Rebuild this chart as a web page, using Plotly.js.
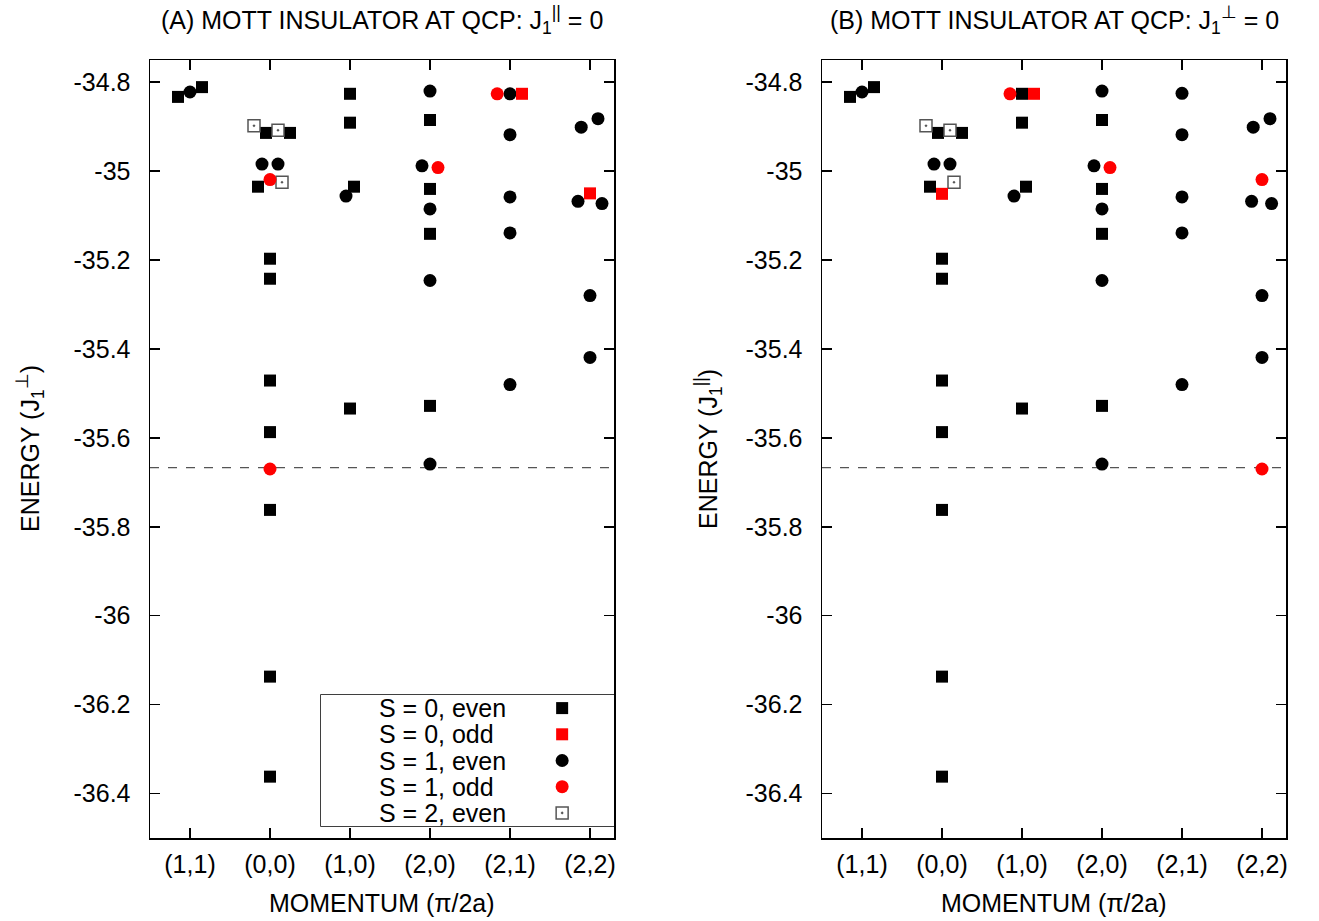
<!DOCTYPE html>
<html>
<head>
<meta charset="utf-8">
<script src="https://cdn.plot.ly/plotly-3.0.1.min.js"></script>
<style>html,body{margin:0;padding:0;background:#fff;}</style>
</head>
<body>
<div id="chart" style="width:1319px;height:921px;"></div>
<script>
// ---------------- DATA ----------------
const momentumLabels = ["(1,1)", "(0,0)", "(1,0)", "(2,0)", "(2,1)", "(2,2)"];
const energyTickValues = [-34.8, -35.0, -35.2, -35.4, -35.6, -35.8, -36.0, -36.2, -36.4];
const energyTickLabels = ["-34.8", "-35", "-35.2", "-35.4", "-35.6", "-35.8", "-36", "-36.2", "-36.4"];
const groundEnergy = -35.667;
const legendLabels = ["S = 0, even", "S = 0, odd", "S = 1, even", "S = 1, odd", "S = 2, even"];

// Panel A  (k = momentum, dx = small horizontal separation of degenerate levels, E = energy)
const A_s0even_k  = ["(1,1)","(1,1)","(0,0)","(0,0)","(0,0)","(0,0)","(0,0)","(0,0)","(0,0)","(0,0)","(0,0)","(0,0)","(1,0)","(1,0)","(1,0)","(1,0)","(2,0)","(2,0)","(2,0)","(2,0)"];
const A_s0even_dx = [-0.15, 0.15, -0.05, 0.25, -0.15, 0, 0, 0, 0, 0, 0, 0, 0, 0, 0.05, 0, 0, 0, 0, 0];
const A_s0even_E  = [-34.833, -34.811, -34.914, -34.914, -35.035, -35.197, -35.242, -35.471, -35.587, -35.762, -36.137, -36.362, -34.826, -34.891, -35.035, -35.534, -34.885, -35.040, -35.141, -35.528];

const A_s0odd_k  = ["(2,1)", "(2,2)"];
const A_s0odd_dx = [0.15, 0];
const A_s0odd_E  = [-34.826, -35.050];

const A_s1even_k  = ["(1,1)","(0,0)","(0,0)","(1,0)","(2,0)","(2,0)","(2,0)","(2,0)","(2,0)","(2,1)","(2,1)","(2,1)","(2,1)","(2,1)","(2,2)","(2,2)","(2,2)","(2,2)","(2,2)","(2,2)"];
const A_s1even_dx = [0, -0.1, 0.1, -0.05, 0, -0.1, 0, 0, 0, 0, 0, 0, 0, 0, -0.11, 0.1, -0.15, 0.15, 0, 0];
const A_s1even_E  = [-34.822, -34.984, -34.984, -35.056, -34.820, -34.988, -35.085, -35.246, -35.659, -34.826, -34.918, -35.058, -35.139, -35.480, -34.901, -34.882, -35.068, -35.073, -35.280, -35.419];

const A_s1odd_k  = ["(0,0)", "(0,0)", "(2,0)", "(2,1)"];
const A_s1odd_dx = [0, 0, 0.1, -0.16];
const A_s1odd_E  = [-35.019, -35.670, -34.992, -34.826];

const A_s2even_k  = ["(0,0)", "(0,0)", "(0,0)"];
const A_s2even_dx = [-0.2, 0.1, 0.15];
const A_s2even_E  = [-34.898, -34.908, -35.025];

// Panel B
const B_s0even_k  = ["(1,1)","(1,1)","(0,0)","(0,0)","(0,0)","(0,0)","(0,0)","(0,0)","(0,0)","(0,0)","(0,0)","(0,0)","(1,0)","(1,0)","(1,0)","(1,0)","(2,0)","(2,0)","(2,0)","(2,0)"];
const B_s0even_dx = [-0.15, 0.15, -0.05, 0.25, -0.15, 0, 0, 0, 0, 0, 0, 0, 0, 0, 0.05, 0, 0, 0, 0, 0];
const B_s0even_E  = [-34.833, -34.811, -34.914, -34.914, -35.035, -35.197, -35.242, -35.471, -35.587, -35.762, -36.137, -36.362, -34.826, -34.891, -35.035, -35.534, -34.885, -35.040, -35.141, -35.528];

const B_s0odd_k  = ["(0,0)", "(1,0)"];
const B_s0odd_dx = [0, 0.15];
const B_s0odd_E  = [-35.051, -34.826];

const B_s1even_k  = ["(1,1)","(0,0)","(0,0)","(1,0)","(2,0)","(2,0)","(2,0)","(2,0)","(2,0)","(2,1)","(2,1)","(2,1)","(2,1)","(2,1)","(2,2)","(2,2)","(2,2)","(2,2)","(2,2)","(2,2)"];
const B_s1even_dx = [0, -0.1, 0.1, -0.1, 0, -0.1, 0, 0, 0, 0, 0, 0, 0, 0, -0.11, 0.1, -0.13, 0.12, 0, 0];
const B_s1even_E  = [-34.822, -34.984, -34.984, -35.056, -34.820, -34.988, -35.085, -35.246, -35.659, -34.825, -34.918, -35.058, -35.139, -35.480, -34.901, -34.882, -35.068, -35.073, -35.280, -35.419];

const B_s1odd_k  = ["(1,0)", "(2,0)", "(2,2)", "(2,2)"];
const B_s1odd_dx = [-0.15, 0.1, 0, 0];
const B_s1odd_E  = [-34.826, -34.992, -35.019, -35.670];

const B_s2even_k  = ["(0,0)", "(0,0)", "(0,0)"];
const B_s2even_dx = [-0.2, 0.1, 0.15];
const B_s2even_E  = [-34.898, -34.908, -35.025];

// ---------------- STYLE ----------------
const FONT = "Liberation Sans, Arial, Helvetica, sans-serif";
const FS = 25;
const TXT = {family: FONT, size: FS, color: "#000"};
const styles = [
  {symbol: "square", color: "#000000", size: 12, line: {width: 0}},
  {symbol: "square", color: "#ff0000", size: 12, line: {width: 0}},
  {symbol: "circle", color: "#000000", size: 13, line: {width: 0}},
  {symbol: "circle", color: "#ff0000", size: 13, line: {width: 0}},
  {symbol: "square-open-dot", color: "#555555", size: 12, line: {width: 1.5, color: "#555555"}}
];

function xs(k, dx) { return k.map((m, i) => momentumLabels.indexOf(m) + dx[i]); }
function mk(k, dx, E, si, xa, ya) {
  const s = styles[si];
  return {
    type: "scatter", mode: "markers", x: xs(k, dx), y: E, xaxis: xa, yaxis: ya,
    name: legendLabels[si], showlegend: false, cliponaxis: false,
    marker: {symbol: s.symbol, color: s.color, size: s.size, opacity: 1, line: s.line}
  };
}

const traces = [
  mk(A_s0even_k, A_s0even_dx, A_s0even_E, 0, "x", "y"),
  mk(A_s2even_k, A_s2even_dx, A_s2even_E, 4, "x", "y"),
  mk(A_s1even_k, A_s1even_dx, A_s1even_E, 2, "x", "y"),
  mk(A_s0odd_k, A_s0odd_dx, A_s0odd_E, 1, "x", "y"),
  mk(A_s1odd_k, A_s1odd_dx, A_s1odd_E, 3, "x", "y"),
  mk(B_s0even_k, B_s0even_dx, B_s0even_E, 0, "x2", "y2"),
  mk(B_s2even_k, B_s2even_dx, B_s2even_E, 4, "x2", "y2"),
  mk(B_s1even_k, B_s1even_dx, B_s1even_E, 2, "x2", "y2"),
  mk(B_s0odd_k, B_s0odd_dx, B_s0odd_E, 1, "x2", "y2"),
  mk(B_s1odd_k, B_s1odd_dx, B_s1odd_E, 3, "x2", "y2")
];

// legend key markers (drawn on a hidden axis pair that spans the key box)
const LEGEND_MARK_X = 0.823;
const LEGEND_TEXT_X = 0.19;
traces.push({
  type: "scatter", mode: "markers", xaxis: "x3", yaxis: "y3", showlegend: false,
  x: legendLabels.map(() => LEGEND_MARK_X), y: legendLabels,
  marker: {
    symbol: styles.map(s => s.symbol), color: styles.map(s => s.color), size: styles.map(s => s.size),
    opacity: 1,
    line: {width: styles.map(s => s.line.width), color: styles.map(s => s.line.color || s.color)}
  }
});

const W = 1319, H = 921;
const yDom = [1 - 838 / H, 1 - 60 / H];
function xAxis(dom, anchor) {
  return {
    domain: dom, anchor: anchor, range: [-0.5, 5.3],
    tickvals: momentumLabels.map((_, i) => i), ticktext: momentumLabels,
    ticks: "inside", ticklen: 10, tickwidth: 1.5, tickcolor: "#000",
    showline: true, linecolor: "#000", linewidth: 1.5, mirror: "ticks",
    showgrid: false, zeroline: false, ticklabelstandoff: 3,
    tickfont: TXT
  };
}
function yAxis(anchor) {
  return {
    domain: yDom, anchor: anchor, range: [-36.5, -34.75],
    tickvals: energyTickValues, ticktext: energyTickLabels,
    ticks: "inside", ticklen: 10, tickwidth: 1.5, tickcolor: "#000",
    showline: true, linecolor: "#000", linewidth: 1.5, mirror: "ticks",
    showgrid: false, zeroline: false, ticklabelstandoff: 13,
    tickfont: TXT
  };
}

const layout = {
  width: W, height: H,
  margin: {l: 0, r: 0, t: 0, b: 0},
  paper_bgcolor: "#fff", plot_bgcolor: "#fff",
  font: TXT,
  showlegend: false,
  xaxis: xAxis([150 / W, 614 / W], "y"),
  yaxis: yAxis("x"),
  xaxis2: xAxis([822 / W, 1286 / W], "y2"),
  yaxis2: yAxis("x2"),
  xaxis3: {domain: [321 / W, 614 / W], anchor: "y3", range: [0, 1], visible: false, fixedrange: true},
  yaxis3: {domain: [1 - 826 / H, 1 - 695 / H], anchor: "x3", type: "category",
           categoryorder: "array", categoryarray: legendLabels, range: [4.5, -0.5], visible: false, fixedrange: true},
  shapes: [
    {type: "line", xref: "x domain", yref: "y", x0: 0, x1: 1, y0: groundEnergy, y1: groundEnergy,
     line: {color: "#555", width: 1.2, dash: "dash"}, layer: "below"},
    {type: "line", xref: "x2 domain", yref: "y2", x0: 0, x1: 1, y0: groundEnergy, y1: groundEnergy,
     line: {color: "#555", width: 1.2, dash: "dash"}, layer: "below"},
    {type: "rect", xref: "x3 domain", yref: "y3 domain", x0: 0, x1: 1, y0: 0, y1: 1,
     line: {color: "#000", width: 1.5}, fillcolor: "#fff", layer: "below"}
  ],
  annotations: [
    {xref: "x domain", yref: "paper", x: 0.5, y: 1 - 20 / H, xanchor: "center", yanchor: "middle", showarrow: false,
     text: "(A) MOTT INSULATOR AT QCP: J<sub>1</sub><sup>||</sup> = 0", font: TXT},
    {xref: "x2 domain", yref: "paper", x: 0.5, y: 1 - 20 / H, xanchor: "center", yanchor: "middle", showarrow: false,
     text: "(B) MOTT INSULATOR AT QCP: J<sub>1</sub><sup>⊥</sup> = 0", font: TXT},
    {xref: "x domain", yref: "paper", x: 0.5, y: 1 - 903 / H, xanchor: "center", yanchor: "middle", showarrow: false,
     text: "MOMENTUM (π/2a)", font: TXT},
    {xref: "x2 domain", yref: "paper", x: 0.5, y: 1 - 903 / H, xanchor: "center", yanchor: "middle", showarrow: false,
     text: "MOMENTUM (π/2a)", font: TXT},
    {xref: "paper", yref: "y domain", x: 30 / W, y: 0.5, xanchor: "center", yanchor: "middle", showarrow: false,
     textangle: -90, text: "ENERGY (J<sub>1</sub><sup>⊥</sup>)", font: TXT},
    {xref: "paper", yref: "y2 domain", x: 708 / W, y: 0.5, xanchor: "center", yanchor: "middle", showarrow: false,
     textangle: -90, text: "ENERGY (J<sub>1</sub><sup>||</sup>)", font: TXT}
  ].concat(legendLabels.map(l => ({
     xref: "x3 domain", yref: "y3", x: LEGEND_TEXT_X, y: l, xanchor: "left", yanchor: "middle",
     showarrow: false, text: l, font: TXT
  })))
};

Plotly.newPlot("chart", traces, layout, {staticPlot: true, displayModeBar: false});
</script>
</body>
</html>
